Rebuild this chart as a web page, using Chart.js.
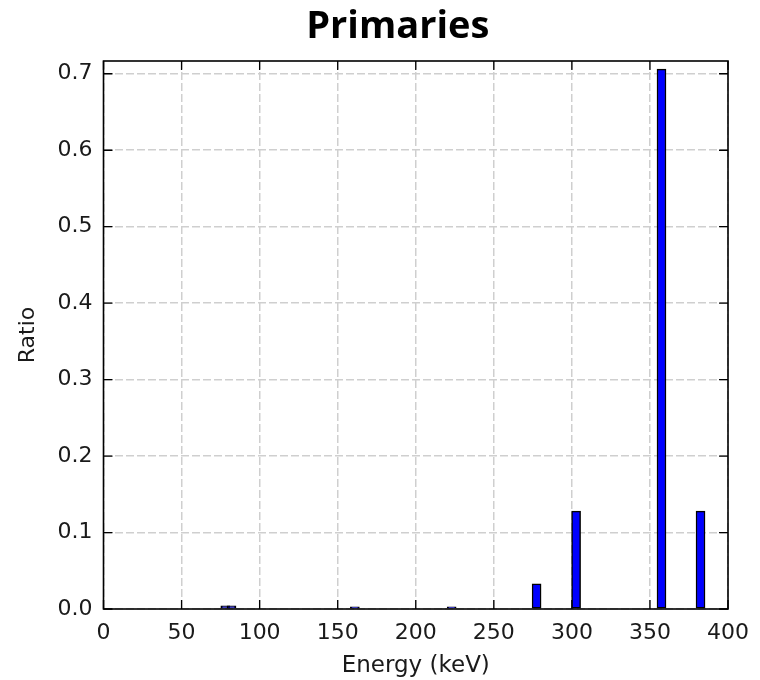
<!DOCTYPE html>
<html>
<head>
<meta charset="utf-8">
<title>Primaries</title>
<script src="https://cdn.jsdelivr.net/npm/chart.js@4.4.1/dist/chart.umd.min.js"></script>
<style>
  html, body { margin: 0; padding: 0; background: #fff; }
  #wrap { width: 760px; height: 680px; }
</style>
</head>
<body>
<div id="wrap"><canvas id="chart" width="760" height="680"></canvas></div>
<script>
// gamma lines (keV) and their ratios
const energies = [78, 82, 161, 223, 277.4, 302.7, 357.4, 382.4];
const ratios = [0.004, 0.004, 0.003, 0.003, 0.033, 0.128, 0.706, 0.128];

const xTicks = [0, 50, 100, 150, 200, 250, 300, 350, 400];
const yTicks = [0.0, 0.1, 0.2, 0.3, 0.4, 0.5, 0.6, 0.7];

Chart.defaults.font.family = 'DejaVu Sans';
Chart.defaults.color = '#1a1a1a';

// matplotlib-like frame with inward ticks on all four sides
const frameTicks = {
  id: 'frameTicks',
  afterDatasetsDraw(chart) {
    const { ctx, chartArea: a, scales: { x, y } } = chart;
    const len = 9;
    ctx.save();
    ctx.strokeStyle = '#000';
    ctx.lineWidth = 1.3;
    ctx.beginPath();
    x.ticks.forEach(t => {
      const px = x.getPixelForValue(t.value);
      ctx.moveTo(px, a.bottom); ctx.lineTo(px, a.bottom - len);
      ctx.moveTo(px, a.top); ctx.lineTo(px, a.top + len);
    });
    y.ticks.forEach(t => {
      const py = y.getPixelForValue(t.value);
      ctx.moveTo(a.left, py); ctx.lineTo(a.left + len, py);
      ctx.moveTo(a.right, py); ctx.lineTo(a.right - len, py);
    });
    ctx.stroke();
    ctx.lineWidth = 1.6;
    ctx.strokeRect(a.left, a.top, a.right - a.left, a.bottom - a.top);
    ctx.restore();
  }
};

// big bold title, sits a bit left of the plot centre like the original
const bigTitle = {
  id: 'bigTitle',
  afterDraw(chart) {
    const { ctx, chartArea: a } = chart;
    ctx.save();
    ctx.font = 'bold 38px "Open Sans"';
    ctx.fillStyle = '#000';
    ctx.textAlign = 'center';
    ctx.textBaseline = 'alphabetic';
    ctx.fillText('Primaries', (a.left + a.right) / 2 - 18, 38);
    ctx.restore();
  }
};

new Chart(document.getElementById('chart'), {
  type: 'bar',
  data: {
    datasets: [{
      data: energies.map((e, i) => ({ x: e, y: ratios[i] })),
      backgroundColor: '#0000ff',
      borderColor: '#000',
      borderWidth: 1.5,
      borderSkipped: false,
      barThickness: 9
    }]
  },
  options: {
    responsive: false,
    animation: false,
    layout: { padding: { left: 8, right: 31, top: 61, bottom: 0 } },
    plugins: {
      legend: { display: false },
      title: { display: false },
      tooltip: { enabled: false }
    },
    scales: {
      x: {
        type: 'linear',
        min: 0,
        max: 400,
        offset: false,
        afterBuildTicks: s => { s.ticks = xTicks.map(v => ({ value: v })); },
        afterFit: s => { s.height = 71; },
        ticks: {
          padding: 11,
          maxRotation: 0,
          autoSkip: false,
          font: { size: 22 },
          callback: v => String(v)
        },
        grid: { offset: false, color: '#cfcfcf', lineWidth: 1.5, drawTicks: false },
        border: { display: false, dash: [8, 3] },
        title: {
          display: true,
          text: 'Energy (keV)',
          font: { size: 23 },
          padding: { top: 4, bottom: 0 }
        }
      },
      y: {
        min: 0,
        max: 0.7167,
        afterBuildTicks: s => { s.ticks = yTicks.map(v => ({ value: v })); },
        afterFit: s => { s.width = 95.5; },
        ticks: {
          padding: 11,
          font: { size: 22 },
          callback: v => v.toFixed(1)
        },
        grid: { color: '#cfcfcf', lineWidth: 1.5, drawTicks: false },
        border: { display: false, dash: [8, 3] },
        title: {
          display: true,
          text: 'Ratio',
          font: { size: 22 },
          padding: { top: 7, bottom: 4 }
        }
      }
    }
  },
  plugins: [frameTicks, bigTitle]
});
</script>
</body>
</html>
